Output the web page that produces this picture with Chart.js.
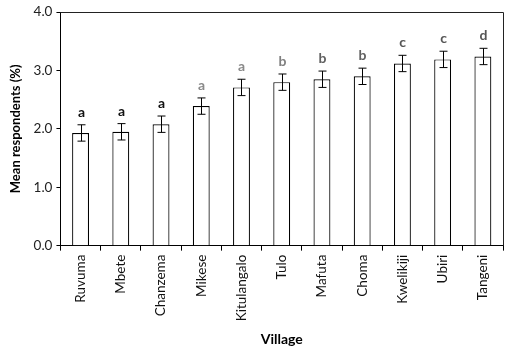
<!DOCTYPE html>
<html>
<head>
<meta charset="utf-8">
<script src="https://cdn.jsdelivr.net/npm/chart.js@4"></script>
<style>
  html, body { margin: 0; padding: 0; background: #fff; }
  #wrap { width: 510px; height: 348px; }
</style>
</head>
<body>
<div id="wrap"><canvas id="chart"></canvas></div>
<script>
const villages = ['Ruvuma', 'Mbete', 'Chanzema', 'Mikese', 'Kitulangalo', 'Tulo', 'Mafuta', 'Choma', 'Kwelikiji', 'Ubiri', 'Tangeni'];
const means = [1.93, 1.95, 2.08, 2.39, 2.71, 2.80, 2.85, 2.90, 3.12, 3.19, 3.24];
const errors = [0.14, 0.14, 0.14, 0.14, 0.14, 0.14, 0.14, 0.14, 0.14, 0.14, 0.14];
const letters = ['a', 'a', 'a', 'a', 'a', 'b', 'b', 'b', 'c', 'c', 'd'];
const letterColors = ['#111', '#111', '#111', '#8a8a8a', '#8a8a8a', '#808080', '#606060', '#606060', '#555', '#555', '#555'];

const fontFamily = "Lato, 'Open Sans', sans-serif";

// error bars, group letters and the box frame
const extras = {
  id: 'extras',
  afterDatasetsDraw(chart) {
    const ctx = chart.ctx;
    const x = chart.scales.x;
    const y = chart.scales.y;
    const area = chart.chartArea;
    ctx.save();
    ctx.strokeStyle = '#000';
    ctx.lineWidth = 1;
    means.forEach((m, i) => {
      const cx = Math.round(x.getPixelForValue(i)) + 0.5;
      const top = y.getPixelForValue(m + errors[i]);
      const bot = y.getPixelForValue(m - errors[i]);
      ctx.beginPath();
      ctx.moveTo(cx, top);
      ctx.lineTo(cx, bot);
      ctx.moveTo(cx - 4, top);
      ctx.lineTo(cx + 4, top);
      ctx.moveTo(cx - 4, bot);
      ctx.lineTo(cx + 4, bot);
      ctx.stroke();

      ctx.fillStyle = letterColors[i];
      ctx.font = 'bold 14px ' + fontFamily;
      ctx.textAlign = 'center';
      ctx.textBaseline = 'alphabetic';
      ctx.fillText(letters[i], cx, top - 8);
    });
    // frame on top and right
    ctx.strokeStyle = '#222';
    ctx.beginPath();
    ctx.moveTo(area.left, Math.round(area.top) + 0.5);
    ctx.lineTo(Math.round(area.right) + 0.5, Math.round(area.top) + 0.5);
    ctx.lineTo(Math.round(area.right) + 0.5, area.bottom);
    ctx.stroke();
    ctx.restore();
  }
};

new Chart(document.getElementById('chart'), {
  type: 'bar',
  data: {
    labels: villages,
    datasets: [{
      data: means,
      backgroundColor: '#fff',
      borderColor: '#000',
      borderWidth: 1.2,
      borderSkipped: 'bottom',
      barPercentage: 0.42,
      categoryPercentage: 1
    }]
  },
  options: {
    responsive: true,
    maintainAspectRatio: false,
    animation: false,
    layout: { padding: { top: 5, right: 7, left: 4, bottom: 0 } },
    plugins: {
      legend: { display: false },
      tooltip: { enabled: false }
    },
    scales: {
      x: {
        grid: { drawOnChartArea: false, drawTicks: true, tickLength: 5, color: '#000', offset: true },
        border: { color: '#000' },
        ticks: {
          color: '#111',
          font: { family: fontFamily, size: 13.5 },
          minRotation: 90,
          maxRotation: 90,
          autoSkip: false,
          padding: 4
        },
        title: {
          display: true,
          text: 'Village',
          color: '#000',
          font: { family: fontFamily, size: 14, weight: 'bold' },
          padding: { top: 6, bottom: 0 }
        }
      },
      y: {
        min: 0,
        max: 4,
        grid: { drawOnChartArea: false, drawTicks: true, tickLength: 4, color: '#000' },
        border: { color: '#000' },
        ticks: {
          stepSize: 1,
          color: '#222',
          font: { family: fontFamily, size: 13.5 },
          padding: 4,
          callback: v => v.toFixed(1)
        },
        title: {
          display: true,
          text: 'Mean respondents (%)',
          color: '#000',
          font: { family: fontFamily, size: 13, weight: 'bold' },
          padding: { bottom: 6 }
        }
      }
    }
  },
  plugins: [extras]
});
</script>
</body>
</html>
